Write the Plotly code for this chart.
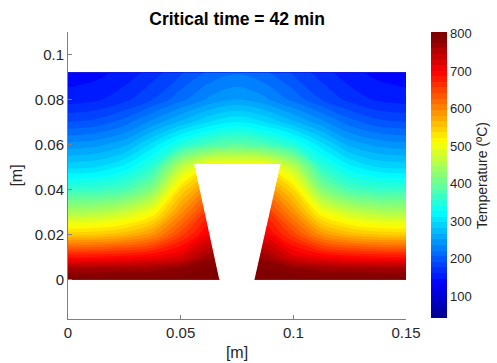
import plotly.graph_objects as go

# Grid nodes (m)
x_nodes = [0.0, 0.0125, 0.025, 0.0375, 0.05, 0.0625, 0.075, 0.0875, 0.1, 0.1125, 0.125, 0.1375, 0.15]
y_nodes = [0.0, 0.005, 0.01, 0.02, 0.03, 0.04, 0.05, 0.06, 0.07, 0.08, 0.092]

# Temperature (ºC), one row per y node
T_y0000 = [800, 800, 800, 800, 800, 800, 800, 800, 800, 800, 800, 800, 800]
T_y0005 = [760, 760, 763, 768, 778, 790, 795, 790, 778, 768, 763, 760, 760]
T_y0010 = [685, 686, 692, 702, 722, 770, 780, 770, 722, 702, 692, 686, 685]
T_y0020 = [545, 548, 560, 588, 648, 705, 710, 705, 648, 588, 560, 548, 545]
T_y0030 = [445, 450, 468, 505, 590, 660, 665, 660, 590, 505, 468, 450, 445]
T_y0040 = [360, 363, 375, 420, 535, 600, 605, 600, 535, 420, 375, 363, 360]
T_y0050 = [290, 295, 315, 355, 460, 520, 520, 520, 460, 355, 315, 295, 290]
T_y0060 = [240, 245, 260, 300, 345, 375, 390, 375, 345, 300, 260, 245, 240]
T_y0070 = [190, 195, 212, 240, 268, 295, 310, 295, 268, 240, 212, 195, 190]
T_y0080 = [152, 157, 170, 190, 215, 238, 250, 238, 215, 190, 170, 157, 152]
T_y0092 = [136, 140, 150, 167, 188, 208, 218, 208, 188, 167, 150, 140, 136]

# Trapezoidal void (m)
void_x = [0.0674, 0.0563, 0.0940, 0.0825, 0.0674]
void_y = [0.0, 0.0510, 0.0510, 0.0, 0.0]

x_ticks = [0, 0.05, 0.1, 0.15]
x_ticklabels = ["0", "0.05", "0.1", "0.15"]
y_ticks = [0, 0.02, 0.04, 0.06, 0.08, 0.1]
y_ticklabels = ["0", "0.02", "0.04", "0.06", "0.08", "0.1"]
cb_ticks = [100, 200, 300, 400, 500, 600, 700, 800]

z = [T_y0000, T_y0005, T_y0010, T_y0020, T_y0030, T_y0040,
     T_y0050, T_y0060, T_y0070, T_y0080, T_y0092]

jet = [[0.0, "rgb(0,0,143)"], [0.125, "rgb(0,0,255)"], [0.375, "rgb(0,255,255)"],
       [0.625, "rgb(255,255,0)"], [0.875, "rgb(255,0,0)"], [1.0, "rgb(128,0,0)"]]

FONT = "Liberation Sans, Arial, Helvetica, sans-serif"
TXT = "#262626"
AX = "#808080"

fig = go.Figure()
fig.add_trace(go.Contour(
    x=x_nodes, y=y_nodes, z=z,
    colorscale=jet, zmin=40, zmax=803,
    autocontour=False,
    contours=dict(start=40, end=800, size=15, coloring="fill", showlines=False),
    line=dict(width=0, smoothing=1.0),
    colorbar=dict(
        x=1.075, xanchor="left", y=0.5, yanchor="middle",
        xpad=0, ypad=0,
        thickness=16, lenmode="pixels", len=286,
        outlinewidth=0, tickvals=cb_ticks, ticks="",
        tickfont=dict(size=13, color=TXT, family=FONT),
        title=dict(text="Temperature (ºC)", side="right",
                   font=dict(size=14, color=TXT, family=FONT)),
    ),
    hoverinfo="skip",
))
fig.add_trace(go.Scatter(
    x=void_x, y=void_y, mode="lines", fill="toself",
    fillcolor="white", line=dict(width=1.2, color="white"),
    hoverinfo="skip", showlegend=False,
))

fig.update_layout(
    width=497, height=363,
    margin=dict(l=68, r=91, t=32, b=44, autoexpand=False),
    paper_bgcolor="white", plot_bgcolor="white",
    font=dict(family=FONT, color=TXT, size=15),
    title=dict(text="<b>Critical time = 42 min</b>", x=0.477, xanchor="center",
               yref="container", y=0.948, yanchor="middle",
               font=dict(size=17.5, color="black", family=FONT)),
    showlegend=False,
    xaxis=dict(range=[0, 0.15], tickvals=x_ticks, ticktext=x_ticklabels,
               showline=True, linecolor=AX, linewidth=1, ticks="inside",
               ticklen=4, tickcolor=AX, showgrid=False, zeroline=False,
               automargin=False,
               tickfont=dict(size=15, color=TXT),
               title=dict(text="[m]", font=dict(size=16, color=TXT), standoff=6)),
    yaxis=dict(range=[-0.0176, 0.11], tickvals=y_ticks, ticktext=y_ticklabels,
               showline=True, linecolor=AX, linewidth=1, ticks="inside",
               ticklen=4, tickcolor=AX, showgrid=False, zeroline=False,
               automargin=False,
               tickfont=dict(size=15, color=TXT),
               title=dict(text="[m]", font=dict(size=16, color=TXT), standoff=8)),
)

fig.write_html("out.html",
               config={"displayModeBar": False},
               post_script="document.body.style.margin='0';document.body.style.padding='0';")
